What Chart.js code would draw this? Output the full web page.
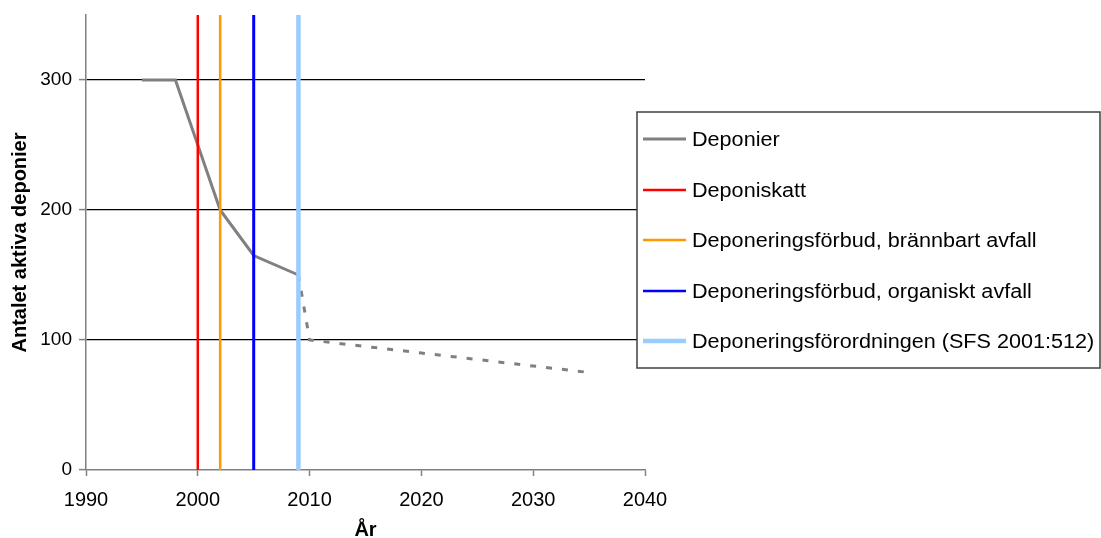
<!DOCTYPE html>
<html>
<head>
<meta charset="utf-8">
<script src="https://cdn.jsdelivr.net/npm/chart.js@4/dist/chart.umd.min.js"></script>
<style>
  html, body { margin: 0; padding: 0; background: #ffffff; overflow: hidden; }
  canvas { display: block; }
</style>
</head>
<body>
<canvas id="chart" width="1101" height="538"></canvas>
<script>
// Number of active landfills per year; values after 2009 are a projection (dashed)
const years    = [1995, 1998, 2000, 2002, 2005, 2009, 2010, 2020, 2030, 2035];
const deponier = [300, 300, 250, 200, 165, 150, 100, 90, 80, 75];
const projectionFrom = 2009;

// Policy milestones drawn as vertical lines
const milestoneLabels = [
  'Deponiskatt',
  'Deponeringsförbud, brännbart avfall',
  'Deponeringsförbud, organiskt avfall',
  'Deponeringsförordningen (SFS 2001:512)'
];
const milestoneYears  = [2000, 2002, 2005, 2009];
const milestoneColors = ['#ff0000', '#ff9900', '#0000ff', '#99ccff'];
const milestoneWidths = [2.5, 2.5, 3, 4.5];

// Axis ticks
const xTicks = [1990, 2000, 2010, 2020, 2030, 2040];
const yTicks = [0, 100, 200, 300];
const xMin = 1990, xMax = 2040, yMin = 0, yMax = 350;

const FONT = '"Liberation Sans", Arial, sans-serif';

const seriesPoints = years.map((x, i) => ({ x, y: deponier[i] }));

const datasets = [{
  label: 'Deponier',
  data: seriesPoints,
  borderColor: '#808080',
  borderWidth: 3,
  legendWidth: 3,
  pointRadius: 0,
  tension: 0,
  order: 10,
  segment: {
    borderDash: ctx => ctx.p0.parsed.x >= projectionFrom ? [6, 10] : undefined
  }
}];

milestoneYears.forEach((yr, i) => {
  datasets.push({
    label: milestoneLabels[i],
    data: [{ x: yr, y: yMin }, { x: yr, y: yMax }],
    borderColor: milestoneColors[i],
    borderWidth: milestoneWidths[i],
    legendWidth: i === 3 ? 4.5 : 2.5,
    pointRadius: 0,
    order: i + 1
  });
});

// Boxed legend drawn on top of the plot, overlapping its right edge
const boxLegend = {
  id: 'boxLegend',
  afterDraw(chart, args, o) {
    const ctx = chart.ctx;
    ctx.save();
    ctx.fillStyle = '#ffffff';
    ctx.fillRect(o.left, o.top, o.right - o.left, o.bottom - o.top);
    ctx.strokeStyle = '#404040';
    ctx.lineWidth = 1.5;
    ctx.strokeRect(o.left, o.top, o.right - o.left, o.bottom - o.top);
    chart.data.datasets.forEach((ds, i) => {
      const y = Math.round(o.top + o.firstRow + i * o.rowGap);
      ctx.setLineDash([]);
      ctx.strokeStyle = ds.borderColor;
      ctx.lineWidth = ds.legendWidth;
      ctx.beginPath();
      ctx.moveTo(o.left + 6, y);
      ctx.lineTo(o.left + 49, y);
      ctx.stroke();
      // text is set slightly wide
      ctx.save();
      ctx.translate(o.left + 55, y + 1);
      ctx.scale(o.textStretch, 1);
      ctx.font = o.fontSize + 'px ' + FONT;
      ctx.textBaseline = 'middle';
      ctx.textAlign = 'left';
      ctx.fillStyle = '#000000';
      ctx.fillText(ds.label, 0, 0);
      ctx.restore();
    });
    ctx.restore();
  }
};

new Chart(document.getElementById('chart'), {
  type: 'line',
  data: { datasets },
  plugins: [boxLegend],
  options: {
    responsive: false,
    animation: false,
    devicePixelRatio: 1,
    layout: { padding: { left: 0, top: 15, right: 456, bottom: 0 } },
    plugins: {
      legend: { display: false },
      tooltip: { enabled: false },
      boxLegend: { left: 637, top: 112, right: 1100, bottom: 368, firstRow: 27, rowGap: 50.5, fontSize: 20, textStretch: 1.08 }
    },
    scales: {
      x: {
        type: 'linear',
        min: xMin,
        max: xMax,
        afterBuildTicks: s => { s.ticks = xTicks.map(v => ({ value: v })); },
        afterFit: s => { s.height = 68; s.paddingLeft = 0; s.paddingRight = 0; },
        border: { color: '#808080', width: 1.5 },
        grid: { drawOnChartArea: false, drawTicks: true, tickLength: 6, tickColor: '#808080', tickWidth: 1.5 },
        ticks: {
          color: '#000000', padding: 12, maxRotation: 0,
          font: { family: FONT, size: 20 },
          callback: v => String(v)
        },
        title: { display: true, text: 'År', color: '#000000', padding: { top: 0, bottom: -4 }, font: { family: FONT, size: 20, weight: 'bold' } }
      },
      y: {
        type: 'linear',
        min: yMin,
        max: yMax,
        afterBuildTicks: s => { s.ticks = yTicks.map(v => ({ value: v })); },
        afterFit: s => { s.width = 86; s.paddingTop = 0; s.paddingBottom = 0; },
        border: { color: '#808080', width: 1.5 },
        grid: {
          color: c => c.tick && c.tick.value === 0 ? 'rgba(0,0,0,0)' : '#000000',
          lineWidth: 1.2,
          drawTicks: true,
          tickLength: 7,
          tickColor: '#808080',
          tickWidth: 1.5
        },
        ticks: { color: '#000000', padding: 7, font: { family: FONT, size: 19 } },
        title: { display: true, text: 'Antalet aktiva deponier', color: '#000000', padding: { top: 8, bottom: 0 }, font: { family: FONT, size: 20, weight: 'bold' } }
      }
    }
  }
});
</script>
</body>
</html>
